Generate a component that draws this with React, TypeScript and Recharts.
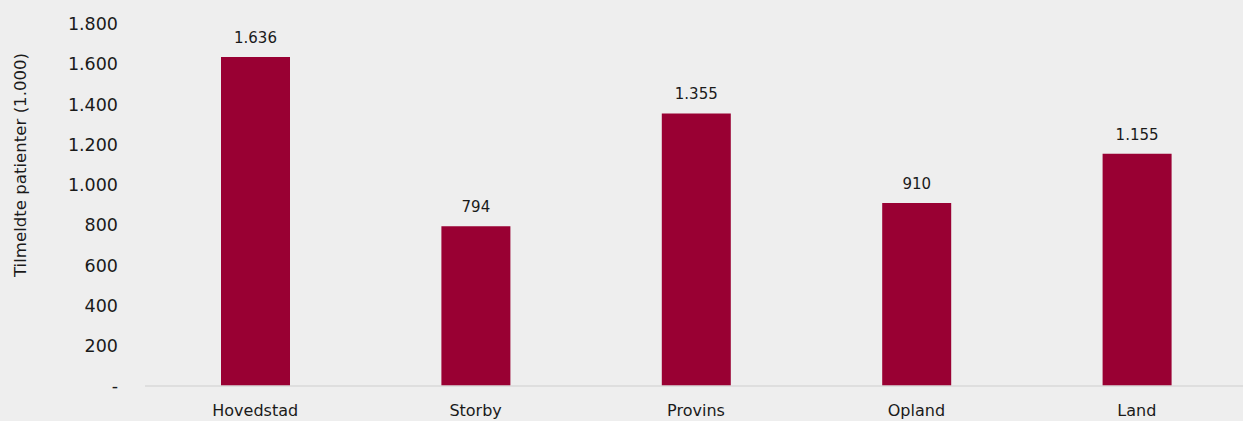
import React from "react";
import { BarChart, Bar, XAxis, YAxis, LabelList, Label } from "recharts";

const categories = ["Hovedstad", "Storby", "Provins", "Opland", "Land"];
const patients = [1636, 794, 1355, 910, 1155];
const yTicks = [0, 200, 400, 600, 800, 1000, 1200, 1400, 1600, 1800];

const data = categories.map((c, i) => ({ name: c, value: patients[i] }));

const fmt = (v: number) =>
  v === 0 ? "-" : String(v).replace(/\B(?=(\d{3})+(?!\d))/g, ".");

const FONT = "'DejaVu Sans', sans-serif";

export default function App() {
  return (
    <div
      style={{
        position: "absolute",
        left: 0,
        top: 0,
        width: 1243,
        height: 421,
        background: "#eeeeee",
        fontFamily: FONT,
        overflow: "hidden",
      }}
    >
      <BarChart
        width={1243}
        height={421}
        data={data}
        margin={{ top: 24, right: -4, bottom: 5, left: 0 }}
        barSize={69}
      >
        <XAxis
          dataKey="name"
          height={30}
          tickLine={false}
          axisLine={{ stroke: "#d9d9d9", strokeWidth: 1.5 }}
          tick={{ fill: "#1a1a1a", fontSize: 16, fontFamily: FONT }}
          tickMargin={13}
          interval={0}
        />
        <YAxis
          width={145}
          domain={[0, 1800]}
          ticks={yTicks}
          tickFormatter={fmt}
          axisLine={false}
          tickLine={false}
          tickSize={0}
          tickMargin={27}
          tick={{ fill: "#1a1a1a", fontSize: 17.5, fontFamily: FONT }}
        >
          <Label
            value="Tilmeldte patienter (1.000)"
            angle={-90}
            position="insideLeft"
            dx={15}
            dy={-40}
            style={{ textAnchor: "middle", fill: "#1a1a1a", fontSize: 16.6, fontFamily: FONT }}
          />
        </YAxis>
        <Bar dataKey="value" fill="#990033" isAnimationActive={false}>
          <LabelList
            dataKey="value"
            position="top"
            offset={14}
            formatter={(v: number) => fmt(v)}
            style={{ fill: "#1a1a1a", fontSize: 15, fontFamily: FONT }}
          />
        </Bar>
      </BarChart>
    </div>
  );
}
